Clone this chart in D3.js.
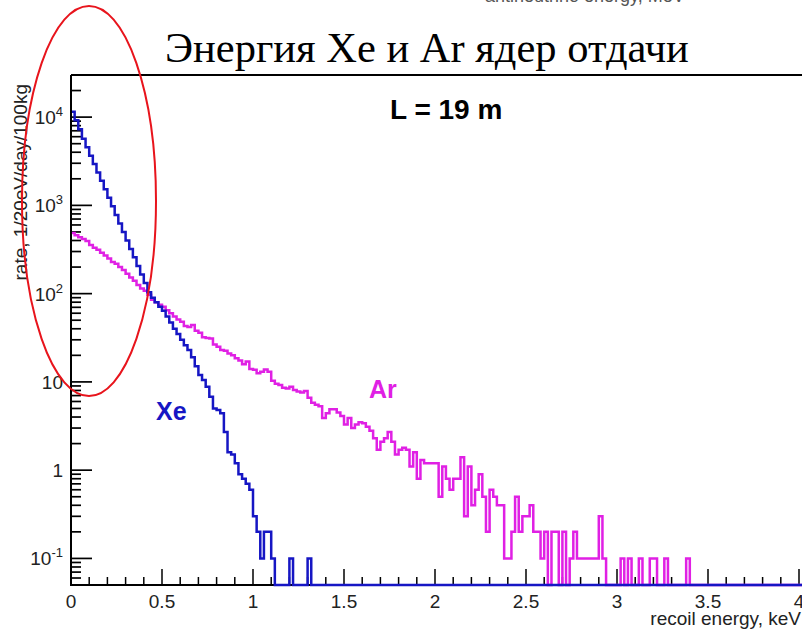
<!DOCTYPE html>
<html>
<head>
<meta charset="utf-8">
<script src="https://cdn.jsdelivr.net/npm/d3@7"></script>
<style>
  body { margin: 0; background: #fff; }
  svg { display: block; }
</style>
</head>
<body>
<div id="chart"></div>
<script>
// bin width 20 eV = 0.02 keV, bins start at 0
var binWidth = 0.02;
var nBins = 201;

// Xe recoil rate per bin (1/20eV/day/100kg)
var xeRate = [11500, 9200, 7300, 5700, 4550, 3650, 2950, 2350, 1900, 1520,
  1220, 980, 780, 625, 500, 400, 320, 258, 205, 165,
  132, 104, 90, 80, 71, 64, 55, 47, 40, 35,
  30, 26, 23, 19, 15, 12, 10.5, 8.8, 6.8, 5.0,
  4.8, 4.4, 2.7, 1.6, 1.5, 1.2, 0.9, 0.8, 0.7, 0.6,
  0.3, 0.2, 0.1, 0.2, 0.2, 0.1, 0, 0, 0, 0,
  0.1, 0, 0, 0, 0, 0.1];

// Ar recoil rate per bin
var arRate = [485, 460, 435, 415, 395, 355, 330, 315, 290, 270,
  250, 228, 218, 200, 185, 168, 152, 140, 125, 114,
  108, 97, 85, 80, 75, 71, 65, 60, 55, 51,
  48, 43, 42, 44, 38, 36, 32, 31.5, 31, 26.5,
  25, 23, 22.5, 21, 20, 18.5, 17.5, 15.8, 17, 14,
  13.7, 12.5, 13, 13.8, 13, 10.3, 9.5, 9.2, 8.6, 8.4,
  8.8, 8.1, 7.8, 7.6, 7.9, 6.6, 5.8, 5.5, 5.3, 3.9,
  4.4, 4.9, 4.9, 4.5, 4.1, 3.3, 3.9, 3.0, 3.3, 3.5,
  3.4, 3.1, 2.8, 2.3, 1.7, 2.1, 2.3, 2.7, 2.1, 1.5,
  1.7, 1.8, 1.7, 1.1, 1.6, 0.8, 1.3, 1.2, 1.2, 1.2,
  1.2, 0.5, 1.1, 0.8, 0.6, 0.8, 0.8, 1.4, 0.3, 1.1,
  0.4, 0.6, 0.9, 0.5, 0.2, 0.6, 0.5, 0.4, 0.4, 0.1,
  0.1, 0.2, 0.5, 0.2, 0.3, 0.3, 0.4, 0.2, 0.2, 0.1,
  0.2, 0, 0.2, 0.2, 0, 0.2, 0, 0.1, 0.2, 0.1,
  0.1, 0.1, 0.1, 0.1, 0.1, 0.3, 0.1, 0, 0, 0,
  0, 0.1, 0, 0.1, 0, 0, 0.1, 0, 0, 0.1,
  0.1, 0, 0, 0.1, 0, 0, 0, 0, 0, 0.1];

var xMajor = [0, 0.5, 1, 1.5, 2, 2.5, 3, 3.5, 4];
var xLabels = ["0", "0.5", "1", "1.5", "2", "2.5", "3", "3.5", "4"];
var yMajor = [0.1, 1, 10, 100, 1000, 10000];
var yBase = ["10", "1", "10", "10", "10", "10"];
var yExp = ["-1", "", "", "2", "3", "4"];

var width = 802, height = 630;
var pLeft = 71, pTop = 75, pRight = 799, pBottom = 585;
var xeColor = "#1616c4";
var arColor = "#e020e4";
var font = "'Liberation Sans', Arial, sans-serif";

var svg = d3.select("#chart").append("svg")
  .attr("width", width)
  .attr("height", height);

var x = d3.scaleLinear().domain([0, 4]).range([pLeft, pRight]);
var y = d3.scaleLog().domain([0.05, 3e4]).range([pBottom, pTop]).clamp(true);

// cut-off caption of the chart above
svg.append("text")
  .attr("x", 485).attr("y", 2)
  .style("font-family", font).style("font-size", "18px")
  .style("fill", "#555")
  .text("antineutrino energy,  MeV");

// slide title
svg.append("text")
  .attr("x", 165).attr("y", 62)
  .style("font-family", "'Liberation Serif', 'Times New Roman', serif")
  .style("font-size", "42.5px")
  .text("Энергия Xe и Ar ядер отдачи");

// top frame line
svg.append("line").attr("x1", pLeft).attr("x2", width).attr("y1", pTop).attr("y2", pTop)
  .attr("stroke", "#000").attr("stroke-width", 2);

// x ticks (inside, pointing up)
var xMinor = d3.range(1, 41).map(function(d) { return d / 10; });
svg.append("g").selectAll("line")
  .data(xMinor)
  .enter().append("line")
  .attr("x1", function(d) { return x(d); })
  .attr("x2", function(d) { return x(d); })
  .attr("y1", pBottom)
  .attr("y2", function(d, i) { return (i + 1) % 5 == 0 ? pBottom - 16 : pBottom - 8; })
  .attr("stroke", "#000").attr("stroke-width", 1.5);

svg.append("g").selectAll("text")
  .data(xMajor)
  .enter().append("text")
  .attr("x", function(d) { return x(d); })
  .attr("y", 608)
  .attr("text-anchor", "middle")
  .style("font-family", font).style("font-size", "19px").style("fill", "#222")
  .text(function(d, i) { return xLabels[i]; });

// y ticks (log, inside, pointing right)
var yMinor = [];
[-2, -1, 0, 1, 2, 3, 4].forEach(function(p) {
  for (var k = 2; k <= 9; k++) {
    var v = k * Math.pow(10, p);
    if (v > 0.05 && v < 3e4) yMinor.push(v);
  }
});
svg.append("g").selectAll("line")
  .data(yMinor)
  .enter().append("line")
  .attr("x1", pLeft).attr("x2", pLeft + 10)
  .attr("y1", function(d) { return y(d); })
  .attr("y2", function(d) { return y(d); })
  .attr("stroke", "#000").attr("stroke-width", 1.7);

svg.append("g").selectAll("line")
  .data(yMajor)
  .enter().append("line")
  .attr("x1", pLeft).attr("x2", pLeft + 21)
  .attr("y1", function(d) { return y(d); })
  .attr("y2", function(d) { return y(d); })
  .attr("stroke", "#000").attr("stroke-width", 1.7);

var yl = svg.append("g").selectAll("text")
  .data(yMajor)
  .enter().append("text")
  .attr("x", 63)
  .attr("y", function(d) { return y(d) + 7; })
  .attr("text-anchor", "end")
  .style("font-family", font).style("font-size", "19px").style("fill", "#222");
yl.append("tspan").text(function(d, i) { return yBase[i]; });
yl.append("tspan")
  .attr("dy", -8)
  .style("font-size", "13px")
  .text(function(d, i) { return yExp[i]; });

// histograms as ROOT-style step outlines (start at the first bin top)
function stepPath(vals) {
  var pts = [];
  for (var i = 0; i < nBins; i++) {
    var v = i < vals.length ? vals[i] : 0;
    var yy = v > 0 ? y(v) : pBottom;
    pts.push([x(i * binWidth), yy]);
    pts.push([x((i + 1) * binWidth), yy]);
  }
  return d3.line()(pts);
}

svg.append("clipPath").attr("id", "plot")
  .append("rect").attr("x", pLeft).attr("y", pTop).attr("width", width - pLeft).attr("height", pBottom - pTop + 2);

svg.append("path")
  .attr("d", stepPath(arRate))
  .attr("clip-path", "url(#plot)")
  .attr("fill", "none").attr("stroke", arColor).attr("stroke-width", 2.5);

svg.append("line").attr("x1", pLeft).attr("x2", width).attr("y1", pBottom).attr("y2", pBottom)
  .attr("stroke", "#000").attr("stroke-width", 2);

svg.append("path")
  .attr("d", stepPath(xeRate))
  .attr("clip-path", "url(#plot)")
  .attr("fill", "none").attr("stroke", xeColor).attr("stroke-width", 2.5);

// left axis
svg.append("line").attr("x1", pLeft).attr("x2", pLeft).attr("y1", pTop).attr("y2", pBottom + 1)
  .attr("stroke", "#000").attr("stroke-width", 2);

// labels inside the plot
svg.append("text")
  .attr("x", 390).attr("y", 119)
  .style("font-family", font).style("font-size", "28px").style("font-weight", "bold")
  .text("L = 19 m");

svg.append("text")
  .attr("x", 369).attr("y", 398)
  .style("font-family", font).style("font-size", "25px").style("font-weight", "bold")
  .style("fill", arColor)
  .text("Ar");

svg.append("text")
  .attr("x", 156).attr("y", 420)
  .style("font-family", font).style("font-size", "25px").style("font-weight", "bold")
  .style("fill", xeColor)
  .text("Xe");

// axis titles
svg.append("text")
  .attr("x", 801).attr("y", 625)
  .attr("text-anchor", "end")
  .style("font-family", font).style("font-size", "19px").style("fill", "#222")
  .text("recoil energy,  keV");

svg.append("text")
  .attr("transform", "translate(27,84) rotate(-90)")
  .attr("text-anchor", "end")
  .style("font-family", font).style("font-size", "19px").style("fill", "#222")
  .text("rate,  1/20eV/day/100kg");

// red ellipse highlighting the low-energy region
svg.append("ellipse")
  .attr("cx", 89).attr("cy", 201).attr("rx", 67).attr("ry", 195)
  .attr("fill", "none").attr("stroke", "#e8141c").attr("stroke-width", 2);
</script>
</body>
</html>
